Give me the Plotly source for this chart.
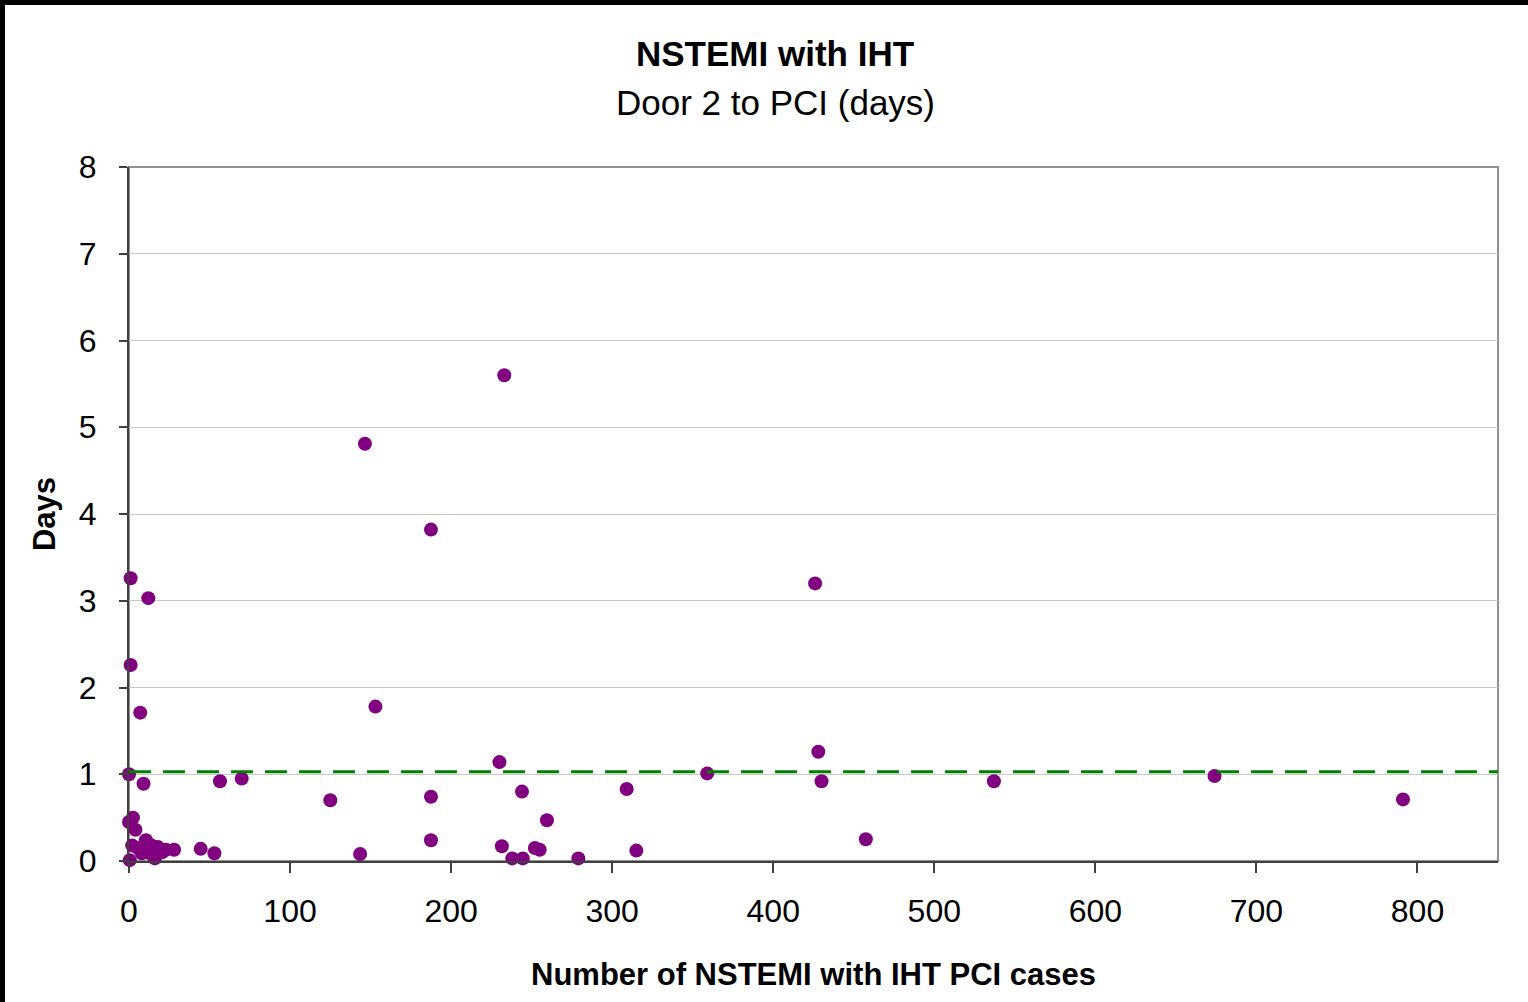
import plotly.graph_objects as go

cases = [1, 12, 1, 7, 0, 9, 146.5, 233, 187.5, 153, 426, 428, 430, 230, 359,
         56.5, 70, 125, 187.5, 244, 309, 259.5, 537, 674, 791, 457.5, 187.5,
         231.5, 252, 255, 238, 244.5, 279, 315, 143.5, 53, 44.5,
         28, 23, 18, 16, 13, 10.5, 4, 2.5, 0, 0.5, 2, 5.5, 8, 14, 20.5]
days = [3.26, 3.03, 2.26, 1.71, 1.0, 0.89, 4.81, 5.6, 3.82, 1.78, 3.2, 1.26, 0.92, 1.14, 1.01,
        0.92, 0.95, 0.70, 0.74, 0.80, 0.83, 0.47, 0.92, 0.98, 0.71, 0.25, 0.24,
        0.17, 0.15, 0.13, 0.03, 0.03, 0.03, 0.12, 0.08, 0.09, 0.14,
        0.13, 0.13, 0.16, 0.03, 0.09, 0.24, 0.36, 0.5, 0.45, 0.01, 0.18, 0.15, 0.09, 0.18, 0.10]
target_days = 1.03
x_range = [0, 850]
y_range = [0, 8]

W, H = 1528, 1002
L, R, T, B = 129, 30, 167, 141
pw, ph = W - L - R, H - T - B

fig = go.Figure()
fig.add_trace(go.Scatter(x=cases, y=days, mode="markers",
                         marker=dict(color="#800080", size=14, line=dict(width=0)),
                         cliponaxis=False, showlegend=False))
fig.add_trace(go.Scatter(x=x_range, y=[target_days, target_days], mode="lines",
                         line=dict(color="#008000", width=3, dash="22px,12px"),
                         showlegend=False, hoverinfo="skip"))

font = "Liberation Sans, Arial, sans-serif"
fig.update_layout(
    width=W, height=H,
    margin=dict(l=L, r=R, t=T, b=B),
    paper_bgcolor="white", plot_bgcolor="white",
    font=dict(family=font, color="black", size=32),
    xaxis=dict(range=x_range, dtick=100, showgrid=False, zeroline=False,
               showline=True, linecolor="#404040", linewidth=2,
               ticks="outside", ticklen=10, tickwidth=2, tickcolor="#404040",
               tickfont=dict(size=32), ticklabelstandoff=11,
               title=dict(text="<b>Number of NSTEMI with IHT PCI cases</b>",
                          font=dict(size=31), standoff=35)),
    yaxis=dict(range=y_range, dtick=1, showgrid=True, gridcolor="#c8c8c8", gridwidth=1,
               zeroline=False, showline=True, linecolor="#404040", linewidth=2,
               ticks="outside", ticklen=8, tickwidth=2, tickcolor="#404040",
               tickfont=dict(size=32), ticklabelstandoff=16,
               title=dict(text="<b>Days</b>", font=dict(size=31), standoff=14)),
    shapes=[
        dict(type="rect", xref="paper", yref="paper", x0=0, x1=1, y0=0, y1=1,
             line=dict(color="#909090", width=2), layer="below"),
        dict(type="rect", xref="paper", yref="paper",
             x0=-L / pw, x1=(W - L) / pw, y0=1 + (T - 5) / ph, y1=1 + T / ph,
             fillcolor="black", line=dict(width=0)),
        dict(type="rect", xref="paper", yref="paper",
             x0=-L / pw, x1=-(L - 5) / pw, y0=-B / ph, y1=1 + T / ph,
             fillcolor="black", line=dict(width=0)),
    ],
    annotations=[
        dict(text="<b>NSTEMI with IHT</b>", xref="paper", yref="paper",
             x=(775 - L) / pw, y=1 + (T - 53) / ph, showarrow=False,
             font=dict(size=35), xanchor="center", yanchor="middle"),
        dict(text="Door 2 to PCI (days)", xref="paper", yref="paper",
             x=(775 - L) / pw, y=1 + (T - 103) / ph, showarrow=False,
             font=dict(size=35), xanchor="center", yanchor="middle"),
    ],
)

fig.write_html("out.html", config={"displayModeBar": False},
               post_script="document.body.style.margin='0';")
